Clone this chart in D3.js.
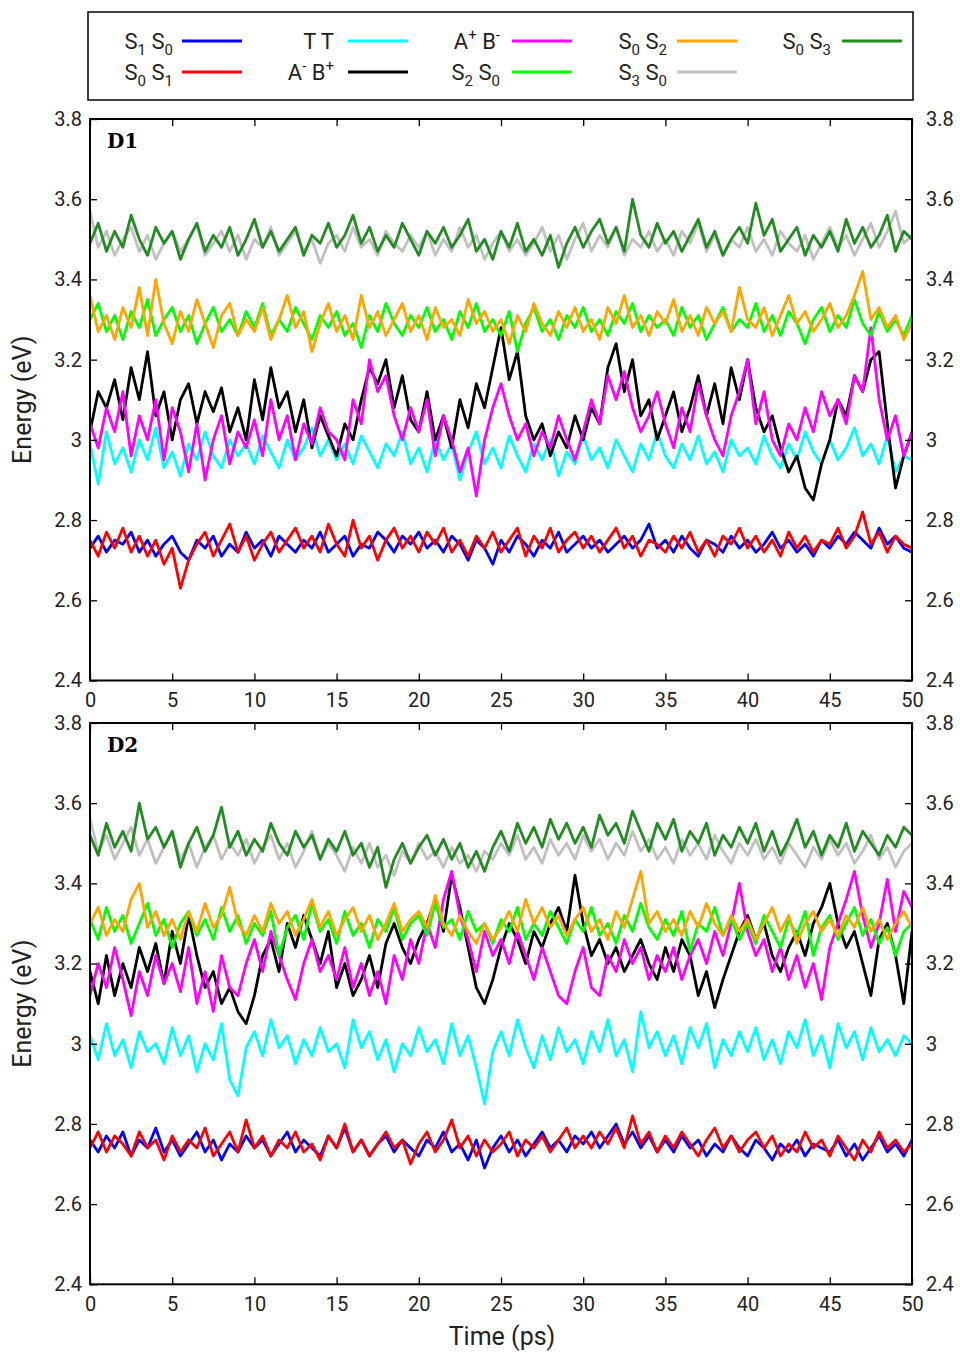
<!DOCTYPE html>
<html>
<head>
<meta charset="utf-8">
<script src="https://cdn.jsdelivr.net/npm/d3@7"></script>
<style>
  body { margin: 0; background: #fff; }
  svg { display: block; font-family: Roboto, "DejaVu Sans", sans-serif; }
</style>
</head>
<body>
<svg id="chart" width="960" height="1354"></svg>
<script>
// sampling grid (ps) and axis ticks
const times = d3.range(0, 50.001, 0.5);
const xTicks = [0, 5, 10, 15, 20, 25, 30, 35, 40, 45, 50];
const yTicks = [2.4, 2.6, 2.8, 3.0, 3.2, 3.4, 3.6, 3.8];

// ---- D1 ----
const d1_S1S0 = [2.73,2.76,2.72,2.75,2.74,2.77,2.72,2.75,2.71,2.74, 2.76,2.72,2.70,2.75,2.73,2.76,2.71,2.74,2.72,2.77, 2.73,2.75,2.71,2.76,2.74,2.72,2.75,2.73,2.77,2.72, 2.74,2.76,2.71,2.74,2.73,2.77,2.75,2.72,2.76,2.74, 2.77,2.73,2.75,2.72,2.76,2.74,2.70,2.75,2.73,2.69, 2.75,2.72,2.76,2.74,2.71,2.75,2.73,2.77,2.72,2.74, 2.76,2.73,2.75,2.72,2.74,2.76,2.73,2.75,2.79,2.73, 2.75,2.72,2.76,2.73,2.71,2.75,2.74,2.72,2.76,2.73, 2.75,2.72,2.74,2.77,2.73,2.75,2.72,2.74,2.71,2.75, 2.73,2.76,2.74,2.77,2.75,2.73,2.78,2.74,2.76,2.73, 2.72];
const d1_S0S1 = [2.75,2.71,2.77,2.73,2.78,2.72,2.76,2.71,2.75,2.69, 2.73,2.63,2.70,2.74,2.77,2.71,2.75,2.79,2.72,2.76, 2.70,2.74,2.77,2.72,2.75,2.78,2.73,2.76,2.72,2.79, 2.74,2.71,2.80,2.73,2.76,2.70,2.75,2.78,2.73,2.76, 2.72,2.77,2.74,2.78,2.72,2.75,2.71,2.76,2.73,2.77, 2.72,2.75,2.78,2.71,2.76,2.73,2.78,2.72,2.75,2.77, 2.73,2.76,2.72,2.75,2.78,2.73,2.76,2.71,2.75,2.74, 2.72,2.76,2.73,2.77,2.72,2.75,2.71,2.76,2.74,2.78, 2.73,2.76,2.72,2.75,2.71,2.77,2.73,2.76,2.72,2.75, 2.74,2.78,2.73,2.76,2.82,2.74,2.77,2.72,2.76,2.74, 2.73];
const d1_TT = [2.99,2.89,3.02,2.94,2.98,2.92,3.00,2.95,3.03,2.93, 2.97,2.91,2.99,2.95,3.02,2.96,2.93,3.00,2.96,2.99, 2.94,3.01,2.97,2.93,3.00,2.95,2.98,3.03,2.96,3.00, 2.95,2.99,2.94,3.01,2.97,2.93,2.99,2.96,3.02,2.94, 2.98,2.92,3.00,2.95,2.99,2.90,2.97,3.02,2.94,2.98, 2.93,3.01,2.96,2.92,2.99,2.95,3.00,2.91,2.97,2.94, 3.01,2.95,2.98,2.93,3.00,2.96,2.92,2.99,2.95,3.02, 2.96,2.93,2.99,2.95,3.01,2.94,2.97,2.92,3.00,2.96, 2.98,2.94,3.01,2.96,2.93,2.99,2.95,3.02,2.97,2.94, 3.00,2.95,2.98,3.03,2.96,2.99,2.94,3.01,2.92,2.96, 2.95];
const d1_AmBp = [3.02,3.12,3.08,3.15,3.05,3.18,3.10,3.22,3.06,3.12, 3.00,3.10,3.14,3.04,3.12,3.07,3.13,3.02,3.08,3.00, 3.15,3.05,3.18,3.08,3.12,3.02,3.10,2.98,3.06,3.01, 2.96,3.04,3.00,3.10,3.18,3.14,3.20,3.08,3.16,3.05, 3.02,3.12,3.00,3.06,2.98,3.10,3.03,3.14,3.08,3.18, 3.28,3.15,3.22,3.06,3.00,3.04,2.96,3.02,2.98,3.06, 3.00,3.08,3.04,3.18,3.24,3.12,3.20,3.06,3.10,3.00, 3.06,3.12,3.02,3.08,3.16,3.06,3.14,3.04,3.18,3.10, 3.20,3.08,3.02,3.06,2.98,2.92,2.96,2.88,2.85,2.94, 3.00,3.10,3.06,3.16,3.12,3.20,3.22,3.04,2.88,2.96, 3.02];
const d1_ApBm = [3.04,2.98,3.08,3.02,3.12,2.96,3.06,3.00,3.10,2.95, 3.08,3.02,2.92,3.04,2.90,3.00,3.06,2.94,3.02,2.98, 3.05,2.96,3.10,3.00,3.06,2.95,3.04,2.99,3.08,3.02, 3.00,2.95,3.10,3.04,3.20,3.12,3.16,3.06,3.00,3.08, 3.02,3.10,2.96,3.06,3.00,2.92,2.98,2.86,3.00,3.08, 3.14,3.06,3.00,3.04,2.96,3.02,2.98,3.06,3.00,2.95, 3.02,3.10,3.04,3.16,3.10,3.17,3.08,3.02,3.06,3.12, 3.04,2.98,3.08,3.02,3.14,3.06,3.00,2.96,3.06,3.12, 3.20,3.04,3.12,3.00,2.96,3.04,3.00,3.08,3.02,3.12, 3.06,3.10,3.04,3.16,3.12,3.28,3.10,3.00,3.06,2.96, 3.02];
const d1_S2S0 = [3.30,3.34,3.27,3.31,3.25,3.32,3.28,3.35,3.26,3.30, 3.33,3.27,3.31,3.24,3.29,3.33,3.27,3.30,3.26,3.32, 3.28,3.34,3.26,3.30,3.27,3.33,3.29,3.25,3.31,3.28, 3.32,3.26,3.29,3.23,3.31,3.27,3.34,3.29,3.26,3.31, 3.28,3.33,3.27,3.30,3.25,3.32,3.28,3.34,3.27,3.30, 3.26,3.32,3.22,3.29,3.33,3.27,3.30,3.25,3.31,3.28, 3.33,3.27,3.30,3.26,3.32,3.29,3.34,3.27,3.31,3.28, 3.30,3.26,3.33,3.28,3.31,3.25,3.29,3.33,3.27,3.30, 3.28,3.34,3.27,3.31,3.26,3.32,3.29,3.24,3.30,3.33, 3.27,3.31,3.28,3.35,3.29,3.26,3.32,3.27,3.30,3.26, 3.31];
const d1_S0S2 = [3.36,3.27,3.31,3.25,3.33,3.28,3.38,3.26,3.40,3.29, 3.24,3.32,3.27,3.35,3.29,3.23,3.31,3.34,3.26,3.30, 3.27,3.33,3.25,3.30,3.36,3.28,3.32,3.22,3.29,3.34, 3.27,3.31,3.25,3.36,3.28,3.32,3.26,3.30,3.34,3.27, 3.31,3.25,3.33,3.28,3.30,3.26,3.35,3.29,3.32,3.27, 3.30,3.24,3.31,3.27,3.34,3.29,3.26,3.32,3.28,3.33, 3.27,3.30,3.25,3.33,3.29,3.36,3.28,3.31,3.26,3.32, 3.29,3.35,3.27,3.31,3.26,3.33,3.29,3.32,3.27,3.38, 3.30,3.28,3.33,3.26,3.31,3.36,3.29,3.32,3.27,3.30, 3.34,3.28,3.31,3.36,3.42,3.30,3.33,3.28,3.31,3.25, 3.29];
const d1_S3S0 = [3.57,3.48,3.52,3.46,3.50,3.53,3.47,3.51,3.45,3.49, 3.52,3.47,3.50,3.54,3.46,3.49,3.52,3.47,3.51,3.45, 3.50,3.48,3.53,3.46,3.49,3.52,3.47,3.50,3.44,3.49, 3.51,3.47,3.53,3.48,3.50,3.46,3.52,3.49,3.47,3.51, 3.48,3.52,3.46,3.50,3.47,3.53,3.48,3.51,3.45,3.49, 3.52,3.47,3.50,3.46,3.49,3.53,3.47,3.51,3.45,3.50, 3.54,3.47,3.51,3.48,3.53,3.46,3.50,3.48,3.52,3.47, 3.50,3.46,3.52,3.49,3.54,3.47,3.51,3.46,3.50,3.48, 3.53,3.47,3.50,3.46,3.52,3.49,3.47,3.51,3.45,3.49, 3.53,3.48,3.51,3.46,3.50,3.54,3.48,3.52,3.57,3.49, 3.51];
const d1_S0S3 = [3.49,3.54,3.47,3.52,3.48,3.56,3.50,3.46,3.53,3.49, 3.52,3.45,3.50,3.54,3.47,3.51,3.48,3.53,3.46,3.50, 3.55,3.48,3.52,3.47,3.50,3.53,3.46,3.51,3.49,3.54, 3.48,3.51,3.56,3.49,3.53,3.47,3.51,3.48,3.54,3.50, 3.46,3.52,3.49,3.53,3.48,3.51,3.55,3.47,3.50,3.45, 3.52,3.48,3.54,3.47,3.50,3.46,3.51,3.43,3.49,3.53, 3.48,3.52,3.55,3.49,3.53,3.47,3.60,3.51,3.48,3.54, 3.49,3.52,3.47,3.51,3.55,3.48,3.52,3.46,3.50,3.53, 3.49,3.59,3.51,3.55,3.47,3.50,3.53,3.46,3.51,3.48, 3.52,3.47,3.55,3.49,3.53,3.48,3.51,3.56,3.47,3.52, 3.50];

// ---- D2 ----
const d2_S1S0 = [2.76,2.73,2.77,2.74,2.78,2.72,2.76,2.74,2.79,2.73, 2.76,2.72,2.75,2.78,2.73,2.76,2.71,2.75,2.73,2.77, 2.74,2.76,2.72,2.75,2.78,2.73,2.76,2.74,2.72,2.77, 2.74,2.79,2.73,2.76,2.72,2.75,2.77,2.73,2.76,2.74, 2.72,2.76,2.74,2.78,2.73,2.75,2.71,2.76,2.69,2.74, 2.77,2.73,2.76,2.72,2.75,2.78,2.74,2.76,2.73,2.77, 2.75,2.78,2.74,2.77,2.80,2.75,2.78,2.74,2.77,2.73, 2.76,2.73,2.77,2.74,2.76,2.72,2.75,2.73,2.77,2.74, 2.72,2.76,2.74,2.71,2.75,2.73,2.76,2.72,2.75,2.74, 2.73,2.76,2.72,2.75,2.71,2.74,2.77,2.73,2.75,2.72, 2.76];
const d2_S0S1 = [2.74,2.78,2.73,2.77,2.75,2.72,2.78,2.74,2.76,2.71, 2.77,2.73,2.76,2.74,2.79,2.72,2.75,2.78,2.73,2.81, 2.74,2.77,2.72,2.76,2.74,2.78,2.73,2.75,2.71,2.77, 2.74,2.80,2.73,2.76,2.72,2.75,2.78,2.74,2.76,2.70, 2.75,2.78,2.73,2.76,2.81,2.74,2.77,2.72,2.76,2.73, 2.75,2.78,2.72,2.76,2.74,2.77,2.73,2.76,2.79,2.74, 2.77,2.74,2.78,2.75,2.79,2.74,2.82,2.75,2.78,2.73, 2.77,2.74,2.78,2.75,2.72,2.76,2.79,2.74,2.77,2.73, 2.76,2.78,2.74,2.77,2.72,2.75,2.73,2.78,2.74,2.76, 2.72,2.77,2.74,2.71,2.76,2.73,2.78,2.74,2.76,2.73, 2.75];
const d2_TT = [3.02,2.96,3.05,2.97,3.01,2.94,3.03,2.98,3.00,2.95, 3.04,2.97,3.02,2.93,3.00,2.96,3.05,2.91,2.87,2.99, 3.03,2.97,3.06,2.99,3.02,2.95,3.01,2.97,3.04,2.98, 3.00,2.94,3.06,2.99,3.03,2.96,3.01,2.93,3.00,2.97, 3.04,2.98,3.01,2.95,3.05,2.97,3.02,2.94,2.85,2.98, 3.03,2.97,3.06,2.99,2.94,3.02,2.96,3.04,2.98,3.01, 2.95,3.03,2.98,3.06,2.97,3.01,2.93,3.08,2.99,3.03, 2.97,3.02,2.95,3.04,2.99,3.05,2.94,3.01,2.97,3.03, 2.98,3.04,2.96,3.01,2.95,3.03,2.99,3.06,2.97,3.02, 2.94,3.05,2.99,3.03,2.96,3.04,2.98,3.01,2.97,3.02, 3.00];
const d2_AmBp = [3.18,3.10,3.22,3.12,3.20,3.14,3.24,3.18,3.25,3.15, 3.28,3.20,3.32,3.22,3.14,3.18,3.10,3.14,3.08,3.05, 3.12,3.22,3.26,3.18,3.30,3.24,3.32,3.26,3.20,3.28, 3.14,3.20,3.12,3.16,3.22,3.14,3.25,3.30,3.24,3.20, 3.26,3.30,3.36,3.28,3.42,3.34,3.24,3.14,3.10,3.16, 3.24,3.30,3.26,3.20,3.28,3.24,3.30,3.34,3.28,3.42, 3.30,3.22,3.26,3.20,3.24,3.18,3.22,3.26,3.20,3.16, 3.24,3.18,3.26,3.22,3.12,3.18,3.09,3.16,3.22,3.28, 3.32,3.26,3.30,3.22,3.18,3.24,3.28,3.22,3.30,3.34, 3.40,3.30,3.24,3.28,3.20,3.12,3.26,3.30,3.22,3.10, 3.28];
const d2_ApBm = [3.12,3.20,3.14,3.24,3.16,3.07,3.18,3.12,3.22,3.15, 3.20,3.13,3.24,3.10,3.18,3.08,3.22,3.14,3.12,3.20, 3.26,3.18,3.28,3.22,3.16,3.11,3.20,3.26,3.18,3.22, 3.16,3.24,3.14,3.20,3.12,3.18,3.10,3.22,3.16,3.26, 3.20,3.30,3.24,3.36,3.43,3.32,3.26,3.18,3.28,3.22, 3.26,3.20,3.28,3.22,3.16,3.24,3.18,3.12,3.10,3.18, 3.24,3.14,3.12,3.22,3.18,3.26,3.20,3.24,3.16,3.22, 3.18,3.24,3.16,3.22,3.26,3.20,3.28,3.22,3.30,3.40, 3.28,3.22,3.26,3.18,3.24,3.16,3.22,3.14,3.20,3.11, 3.24,3.30,3.36,3.43,3.32,3.24,3.30,3.41,3.28,3.38, 3.34];
const d2_S2S0 = [3.31,3.26,3.34,3.28,3.32,3.25,3.30,3.35,3.27,3.31, 3.24,3.30,3.33,3.27,3.31,3.26,3.34,3.28,3.32,3.25, 3.30,3.27,3.33,3.22,3.29,3.32,3.26,3.35,3.28,3.31, 3.25,3.33,3.27,3.30,3.24,3.31,3.28,3.34,3.26,3.30, 3.32,3.27,3.35,3.29,3.31,3.26,3.33,3.28,3.30,3.25, 3.31,3.28,3.34,3.26,3.30,3.27,3.33,3.29,3.25,3.31, 3.28,3.34,3.27,3.30,3.25,3.32,3.28,3.35,3.29,3.26, 3.31,3.27,3.33,3.23,3.30,3.28,3.34,3.27,3.31,3.26, 3.30,3.25,3.32,3.28,3.24,3.31,3.27,3.33,3.22,3.29, 3.32,3.26,3.30,3.34,3.27,3.31,3.25,3.29,3.22,3.28, 3.30];
const d2_S0S2 = [3.30,3.34,3.27,3.31,3.28,3.36,3.40,3.29,3.33,3.27, 3.31,3.26,3.33,3.28,3.35,3.29,3.32,3.39,3.30,3.27, 3.32,3.28,3.35,3.30,3.33,3.27,3.31,3.36,3.29,3.33, 3.27,3.31,3.34,3.28,3.32,3.26,3.30,3.35,3.28,3.31, 3.33,3.29,3.37,3.30,3.27,3.32,3.28,3.25,3.30,3.26, 3.29,3.33,3.28,3.36,3.30,3.34,3.29,3.32,3.27,3.31, 3.34,3.28,3.31,3.26,3.33,3.29,3.36,3.43,3.30,3.33, 3.28,3.31,3.27,3.33,3.29,3.35,3.30,3.27,3.32,3.28, 3.31,3.26,3.30,3.34,3.28,3.32,3.25,3.30,3.33,3.28, 3.31,3.27,3.32,3.29,3.34,3.28,3.31,3.26,3.30,3.33, 3.29];
const d2_S3S0 = [3.56,3.48,3.52,3.46,3.50,3.54,3.47,3.51,3.45,3.49, 3.53,3.46,3.50,3.44,3.49,3.52,3.46,3.50,3.47,3.51, 3.45,3.49,3.52,3.46,3.50,3.44,3.48,3.53,3.46,3.50, 3.47,3.43,3.49,3.45,3.50,3.44,3.47,3.42,3.48,3.45, 3.50,3.46,3.48,3.44,3.49,3.45,3.47,3.43,3.48,3.46, 3.50,3.47,3.52,3.46,3.49,3.45,3.51,3.47,3.50,3.46, 3.52,3.48,3.51,3.46,3.50,3.47,3.53,3.48,3.51,3.46, 3.49,3.45,3.51,3.47,3.50,3.46,3.52,3.48,3.45,3.50, 3.47,3.51,3.46,3.49,3.45,3.50,3.47,3.44,3.49,3.46, 3.51,3.47,3.50,3.45,3.48,3.52,3.46,3.49,3.44,3.48, 3.50];
const d2_S0S3 = [3.52,3.47,3.55,3.49,3.53,3.48,3.60,3.51,3.54,3.49, 3.53,3.44,3.50,3.54,3.48,3.52,3.59,3.49,3.53,3.47, 3.51,3.48,3.55,3.50,3.47,3.53,3.49,3.52,3.46,3.51, 3.48,3.53,3.47,3.50,3.44,3.49,3.39,3.46,3.50,3.45, 3.49,3.52,3.47,3.51,3.46,3.50,3.44,3.48,3.43,3.49, 3.53,3.48,3.55,3.50,3.54,3.49,3.56,3.51,3.55,3.50, 3.54,3.49,3.57,3.52,3.55,3.50,3.58,3.53,3.48,3.55, 3.51,3.56,3.48,3.53,3.50,3.55,3.47,3.52,3.49,3.54, 3.50,3.55,3.48,3.53,3.47,3.51,3.56,3.49,3.53,3.47, 3.52,3.49,3.55,3.48,3.53,3.50,3.47,3.52,3.49,3.54, 3.52];

// series in drawing order (later ones on top)
const series = [
  { name: [["S",""],["1","sub"],[" S",""],["0","sub"]], color: "#0000ff", d1: d1_S1S0, d2: d2_S1S0 },
  { name: [["S",""],["0","sub"],[" S",""],["1","sub"]], color: "#ff0000", d1: d1_S0S1, d2: d2_S0S1 },
  { name: [["T T",""]], color: "#00ffff", d1: d1_TT, d2: d2_TT },
  { name: [["A",""],["-","sup"],[" B",""],["+","sup"]], color: "#000000", d1: d1_AmBp, d2: d2_AmBp },
  { name: [["A",""],["+","sup"],[" B",""],["-","sup"]], color: "#ff00ff", d1: d1_ApBm, d2: d2_ApBm },
  { name: [["S",""],["2","sub"],[" S",""],["0","sub"]], color: "#00ff00", d1: d1_S2S0, d2: d2_S2S0 },
  { name: [["S",""],["0","sub"],[" S",""],["2","sub"]], color: "#ffa500", d1: d1_S0S2, d2: d2_S0S2 },
  { name: [["S",""],["3","sub"],[" S",""],["0","sub"]], color: "#c0c0c0", d1: d1_S3S0, d2: d2_S3S0 },
  { name: [["S",""],["0","sub"],[" S",""],["3","sub"]], color: "#228b22", d1: d1_S0S3, d2: d2_S0S3 }
];

const svg = d3.select("#chart");
const plotLeft = 90, plotRight = 912;
const panels = [
  { label: "D1", key: "d1", top: 119, bottom: 680.5 },
  { label: "D2", key: "d2", top: 723, bottom: 1284.3 }
];

const x = d3.scaleLinear().domain([0, 50]).range([plotLeft, plotRight]);
const fmt = d => String(+d.toFixed(1));

panels.forEach((p, pi) => {
  const y = d3.scaleLinear().domain([2.4, 3.8]).range([p.bottom, p.top]);
  const g = svg.append("g");

  svg.append("clipPath").attr("id", "clip" + pi)
    .append("rect")
    .attr("x", plotLeft).attr("y", p.top)
    .attr("width", plotRight - plotLeft).attr("height", p.bottom - p.top);

  const line = d3.line()
    .x((d, i) => x(times[i]))
    .y(d => y(d));

  g.append("g").attr("clip-path", `url(#clip${pi})`)
    .selectAll("path")
    .data(series)
    .enter()
    .append("path")
    .attr("d", s => line(s[p.key]))
    .attr("fill", "none")
    .attr("stroke", s => s.color)
    .attr("stroke-width", 2.8)
    .attr("stroke-linejoin", "round");

  // axes, ticks pointing inward
  const axes = [
    g.append("g").attr("transform", `translate(${plotLeft},0)`)
      .call(d3.axisLeft(y).tickValues(yTicks).tickFormat(fmt).tickSizeInner(-7).tickSizeOuter(0).tickPadding(8)),
    g.append("g").attr("transform", `translate(${plotRight},0)`)
      .call(d3.axisRight(y).tickValues(yTicks).tickFormat(fmt).tickSizeInner(-7).tickSizeOuter(0).tickPadding(14)),
    g.append("g").attr("transform", `translate(0,${p.bottom})`)
      .call(d3.axisBottom(x).tickValues(xTicks).tickFormat(d => d).tickSizeInner(-7).tickSizeOuter(0).tickPadding(pi === 0 ? 12 : 13)),
    g.append("g").attr("transform", `translate(0,${p.top})`)
      .call(d3.axisTop(x).tickValues(xTicks).tickFormat("").tickSizeInner(-7).tickSizeOuter(0))
  ];
  axes.forEach(a => {
    a.select(".domain").remove();
    a.selectAll("line").attr("stroke", "#000").attr("stroke-width", 1.3);
    a.selectAll("text").attr("font-family", "Roboto, sans-serif").attr("font-size", 20).attr("fill", "#222");
  });

  g.append("rect")
    .attr("x", plotLeft).attr("y", p.top)
    .attr("width", plotRight - plotLeft).attr("height", p.bottom - p.top)
    .attr("fill", "none").attr("stroke", "#000").attr("stroke-width", 2);

  g.append("text")
    .attr("x", 107).attr("y", p.top + 29)
    .attr("font-family", "'DejaVu Serif', 'Liberation Serif', serif")
    .attr("font-weight", "bold").attr("font-size", 20)
    .text(p.label);

  g.append("text")
    .attr("transform", `translate(31,${(p.top + p.bottom) / 2}) rotate(-90)`)
    .attr("text-anchor", "middle")
    .attr("font-size", 25).attr("fill", "#222")
    .text("Energy (eV)");
});

svg.append("text")
  .attr("x", 502).attr("y", 1345)
  .attr("text-anchor", "middle")
  .attr("font-size", 25).attr("fill", "#222")
  .text("Time (ps)");

// legend
svg.append("rect")
  .attr("x", 88).attr("y", 12).attr("width", 825).attr("height", 88)
  .attr("fill", "none").attr("stroke", "#000").attr("stroke-width", 1.5);

const legendCols = [
  { textRight: 173, lineX: 182 },
  { textRight: 334, lineX: 348 },
  { textRight: 500, lineX: 512 },
  { textRight: 667, lineX: 677 },
  { textRight: 831, lineX: 842 }
];
const legendOrder = [0, 1, 2, 3, 4, 5, 6, 7, 8];
const rowY = [41, 72];

legendOrder.forEach((si, k) => {
  const s = series[si];
  const col = legendCols[Math.floor(k / 2)];
  const ly = rowY[k % 2];
  svg.append("line")
    .attr("x1", col.lineX).attr("x2", col.lineX + 60)
    .attr("y1", ly).attr("y2", ly)
    .attr("stroke", s.color).attr("stroke-width", 2.8);
  const t = svg.append("text")
    .attr("x", col.textRight).attr("y", ly + 8)
    .attr("text-anchor", "end")
    .attr("font-size", 22).attr("fill", "#222");
  let shift = 0;
  s.name.forEach(([txt, kind]) => {
    const target = kind === "sub" ? 6 : kind === "sup" ? -9 : 0;
    t.append("tspan")
      .attr("dy", target - shift)
      .attr("font-size", kind ? 15 : 22)
      .text(txt);
    shift = target;
  });
});
</script>
</body>
</html>
